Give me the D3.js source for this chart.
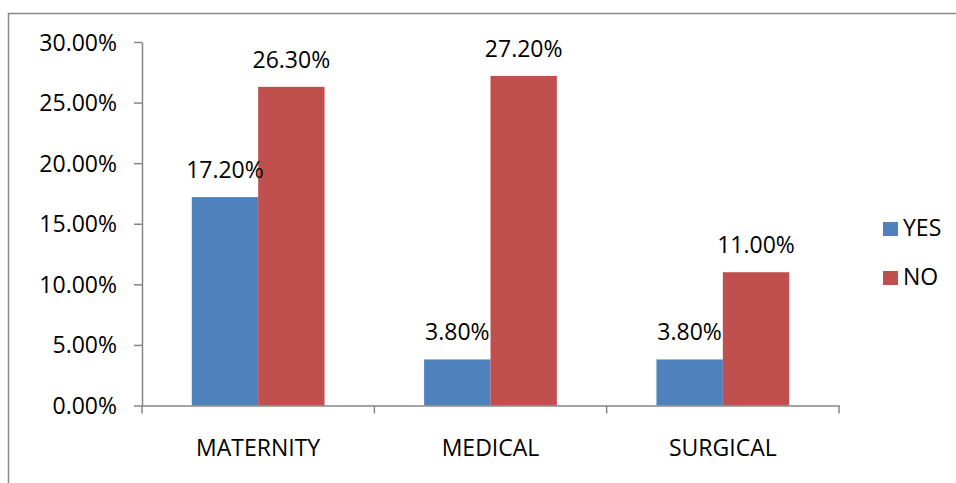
<!DOCTYPE html>
<html>
<head>
<meta charset="utf-8">
<script src="https://cdn.jsdelivr.net/npm/d3@7"></script>
<style>
  html, body { margin: 0; padding: 0; background: #fff; }
  svg text { font-family: "Open Sans", sans-serif; fill: #000; }
</style>
</head>
<body>
<div id="chart"></div>
<script>
const categories = ['MATERNITY', 'MEDICAL', 'SURGICAL']
const seriesNames = ['YES', 'NO']
const yesValues = [0.172, 0.038, 0.038]
const noValues = [0.263, 0.272, 0.110]
const yTicks = [0, 0.05, 0.10, 0.15, 0.20, 0.25, 0.30]

const fullWidth = 956
const fullHeight = 483
const colours = ['#4F81BD', '#C0504D']

const svg = d3.select('#chart')
    .append('svg')
    .attr('width', fullWidth)
    .attr('height', fullHeight)

// outer frame (runs off the right and bottom edges)
svg.append('rect')
    .attr('x', 8.5)
    .attr('y', 13.5)
    .attr('width', 1000)
    .attr('height', 500)
    .attr('fill', 'none')
    .attr('stroke', '#888')
    .attr('stroke-width', 1.5)

const rows = categories.map((c, i) => ({ category: c, YES: yesValues[i], NO: noValues[i] }))

const x = d3.scaleBand()
    .domain(categories)
    .range([142, 839])
const xInner = d3.scaleBand()
    .domain(seriesNames)
    .range([0, x.bandwidth()])
    .paddingOuter(0.75)
const y = d3.scaleLinear()
    .domain([0, 0.30])
    .range([405.5, 42])
const colour = d3.scaleOrdinal().domain(seriesNames).range(colours)

// y axis
const yAxis = svg.append('g')
    .attr('transform', 'translate(142, 0)')
    .call(d3.axisLeft(y).tickValues(yTicks).tickFormat(d3.format('.2%')).tickSize(8).tickSizeOuter(0).tickPadding(17))
yAxis.selectAll('path, line').attr('stroke', '#868686').attr('stroke-width', 1.5)
yAxis.selectAll('text').style('font-size', '23px').attr('dy', '0.35em')

// bars
const groups = svg.append('g')
    .selectAll('g')
    .data(rows)
    .join('g')
    .attr('transform', d => `translate(${x(d.category)}, 0)`)

groups.selectAll('rect')
    .data(d => seriesNames.map(k => ({ key: k, value: d[k] })))
    .join('rect')
    .attr('x', d => xInner(d.key))
    .attr('y', d => y(d.value))
    .attr('width', xInner.bandwidth())
    .attr('height', d => y(0) - y(d.value))
    .attr('fill', d => colour(d.key))

groups.selectAll('text')
    .data(d => seriesNames.map(k => ({ key: k, value: d[k] })))
    .join('text')
    .attr('x', d => xInner(d.key) + xInner.bandwidth() / 2)
    .attr('y', d => y(d.value) - 19)
    .attr('text-anchor', 'middle')
    .style('font-size', '23px')
    .text(d => d3.format('.2%')(d.value))

// x axis
const xAxis = svg.append('g')
    .attr('transform', `translate(0, ${y(0)})`)
    .call(d3.axisBottom(x).tickSize(0).tickSizeOuter(0).tickPadding(34))
xAxis.select('path').attr('stroke', '#868686').attr('stroke-width', 1.5)
xAxis.selectAll('text').style('font-size', '23px')

xAxis.selectAll('.edge')
    .data([...categories.map(c => x(c)), x.range()[1]])
    .join('line')
    .attr('class', 'edge')
    .attr('x1', d => d)
    .attr('x2', d => d)
    .attr('y1', 0)
    .attr('y2', 8)
    .attr('stroke', '#868686')
    .attr('stroke-width', 1.5)

// legend
const legend = svg.append('g')
    .selectAll('g')
    .data(seriesNames)
    .join('g')
    .attr('transform', (d, i) => `translate(883, ${222 + i * 49})`)

legend.append('rect')
    .attr('width', 15)
    .attr('height', 14)
    .attr('fill', d => colour(d))

legend.append('text')
    .attr('x', 20)
    .attr('y', 14)
    .style('font-size', '23px')
    .text(d => d)
</script>
</body>
</html>
